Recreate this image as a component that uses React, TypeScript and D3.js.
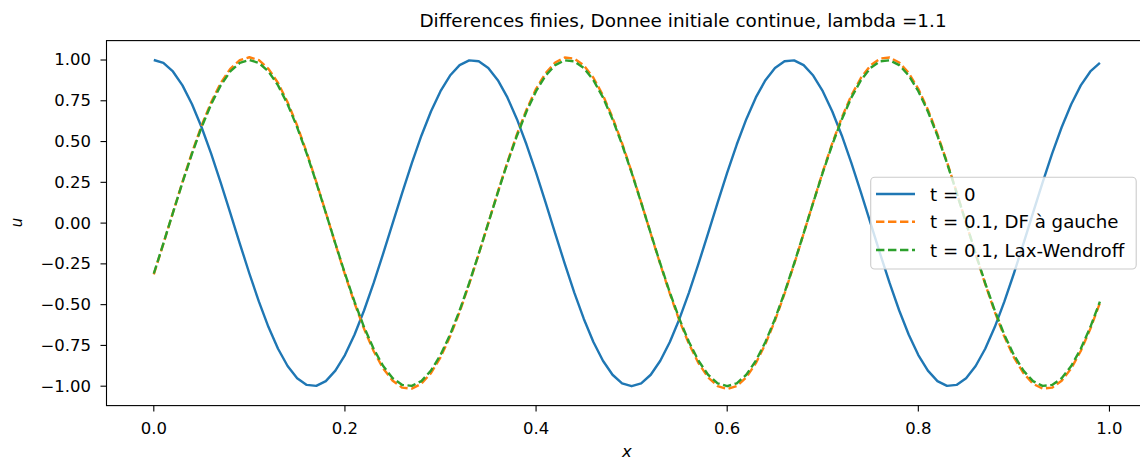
import React from "react";
import * as d3 from "d3";

const xValues = [
  0.00, 0.01, 0.02, 0.03, 0.04, 0.05, 0.06, 0.07, 0.08, 0.09,
  0.10, 0.11, 0.12, 0.13, 0.14, 0.15, 0.16, 0.17, 0.18, 0.19,
  0.20, 0.21, 0.22, 0.23, 0.24, 0.25, 0.26, 0.27, 0.28, 0.29,
  0.30, 0.31, 0.32, 0.33, 0.34, 0.35, 0.36, 0.37, 0.38, 0.39,
  0.40, 0.41, 0.42, 0.43, 0.44, 0.45, 0.46, 0.47, 0.48, 0.49,
  0.50, 0.51, 0.52, 0.53, 0.54, 0.55, 0.56, 0.57, 0.58, 0.59,
  0.60, 0.61, 0.62, 0.63, 0.64, 0.65, 0.66, 0.67, 0.68, 0.69,
  0.70, 0.71, 0.72, 0.73, 0.74, 0.75, 0.76, 0.77, 0.78, 0.79,
  0.80, 0.81, 0.82, 0.83, 0.84, 0.85, 0.86, 0.87, 0.88, 0.89,
  0.90, 0.91, 0.92, 0.93, 0.94, 0.95, 0.96, 0.97, 0.98, 0.99,
];

const uInitial = [
  1.0000, 0.9823, 0.9298, 0.8443, 0.7290, 0.5878, 0.4258, 0.2487, 0.0628, -0.1253,
  -0.3090, -0.4818, -0.6374, -0.7705, -0.8763, -0.9511, -0.9921, -0.9980, -0.9686, -0.9048,
  -0.8090, -0.6845, -0.5358, -0.3681, -0.1874, 0.0000, 0.1874, 0.3681, 0.5358, 0.6845,
  0.8090, 0.9048, 0.9686, 0.9980, 0.9921, 0.9511, 0.8763, 0.7705, 0.6374, 0.4818,
  0.3090, 0.1253, -0.0628, -0.2487, -0.4258, -0.5878, -0.7290, -0.8443, -0.9298, -0.9823,
  -1.0000, -0.9823, -0.9298, -0.8443, -0.7290, -0.5878, -0.4258, -0.2487, -0.0628, 0.1253,
  0.3090, 0.4818, 0.6374, 0.7705, 0.8763, 0.9511, 0.9921, 0.9980, 0.9686, 0.9048,
  0.8090, 0.6845, 0.5358, 0.3681, 0.1874, 0.0000, -0.1874, -0.3681, -0.5358, -0.6845,
  -0.8090, -0.9048, -0.9686, -0.9980, -0.9921, -0.9511, -0.8763, -0.7705, -0.6374, -0.4818,
  -0.3090, -0.1253, 0.0628, 0.2487, 0.4258, 0.5878, 0.7290, 0.8443, 0.9298, 0.9823,
];

const uUpwind = [
  -0.314, -0.127, 0.064, 0.253, 0.433, 0.598, 0.741, 0.859, 0.946, 0.999,
  1.017, 0.999, 0.946, 0.859, 0.741, 0.598, 0.433, 0.253, 0.064, -0.127,
  -0.314, -0.490, -0.648, -0.784, -0.891, -0.967, -1.009, -1.015, -0.985, -0.920,
  -0.823, -0.696, -0.545, -0.374, -0.191, 0.000, 0.191, 0.374, 0.545, 0.696,
  0.823, 0.920, 0.985, 1.015, 1.009, 0.967, 0.891, 0.784, 0.648, 0.490,
  0.314, 0.127, -0.064, -0.253, -0.433, -0.598, -0.741, -0.859, -0.946, -0.999,
  -1.017, -0.999, -0.946, -0.859, -0.741, -0.598, -0.433, -0.253, -0.064, 0.127,
  0.314, 0.490, 0.648, 0.784, 0.891, 0.967, 1.009, 1.015, 0.985, 0.920,
  0.823, 0.696, 0.545, 0.374, 0.191, 0.000, -0.191, -0.374, -0.545, -0.696,
  -0.823, -0.920, -0.985, -1.015, -1.009, -0.967, -0.891, -0.784, -0.648, -0.490,
];

const uLaxWendroff = [
  -0.3090, -0.1253, 0.0628, 0.2487, 0.4258, 0.5878, 0.7290, 0.8443, 0.9298, 0.9823,
  1.0000, 0.9823, 0.9298, 0.8443, 0.7290, 0.5878, 0.4258, 0.2487, 0.0628, -0.1253,
  -0.3090, -0.4818, -0.6374, -0.7705, -0.8763, -0.9511, -0.9921, -0.9980, -0.9686, -0.9048,
  -0.8090, -0.6845, -0.5358, -0.3681, -0.1874, 0.0000, 0.1874, 0.3681, 0.5358, 0.6845,
  0.8090, 0.9048, 0.9686, 0.9980, 0.9921, 0.9511, 0.8763, 0.7705, 0.6374, 0.4818,
  0.3090, 0.1253, -0.0628, -0.2487, -0.4258, -0.5878, -0.7290, -0.8443, -0.9298, -0.9823,
  -1.0000, -0.9823, -0.9298, -0.8443, -0.7290, -0.5878, -0.4258, -0.2487, -0.0628, 0.1253,
  0.3090, 0.4818, 0.6374, 0.7705, 0.8763, 0.9511, 0.9921, 0.9980, 0.9686, 0.9048,
  0.8090, 0.6845, 0.5358, 0.3681, 0.1874, 0.0000, -0.1874, -0.3681, -0.5358, -0.6845,
  -0.8090, -0.9048, -0.9686, -0.9980, -0.9921, -0.9511, -0.8763, -0.7705, -0.6374, -0.4818,
];

const xTicks = [0.0, 0.2, 0.4, 0.6, 0.8, 1.0];
const yTicks = [-1.0, -0.75, -0.5, -0.25, 0.0, 0.25, 0.5, 0.75, 1.0];

const seriesLabels = ["t = 0", "t = 0.1, DF à gauche", "t = 0.1, Lax-Wendroff"];
const titleText = "Differences finies, Donnee initiale continue, lambda =1.1";

const W = 1140;
const H = 462;
const FONT = "DejaVu Sans, sans-serif";
const SX = 1.1; // horizontal stretch of tick labels

export default function App() {
  const x = d3.scaleLinear().domain([-0.0495, 1.0395]).range([106.5, 1147.2]);
  const y = d3.scaleLinear().domain([-1.119, 1.119]).range([405.6, 40.6]);
  const left = x.range()[0];
  const right = x.range()[1];
  const top = y.range()[1];
  const bottom = y.range()[0];

  const line = d3
    .line<number>()
    .x((_, i) => x(xValues[i]))
    .y((d) => y(d));

  const series = [
    { data: uInitial, color: "#1f77b4", dash: undefined as string | undefined },
    { data: uUpwind, color: "#ff7f0e", dash: "8.4,3.6" },
    { data: uLaxWendroff, color: "#2ca02c", dash: "8.4,3.6" },
  ];

  const fmtY = (v: number) => {
    const s = Math.abs(v).toFixed(2);
    return v < 0 ? "\u2212" + s : s;
  };

  const legend = { x: 870.7, y: 177.3, w: 265.5, h: 91.7 };
  const rowY = [194, 221.8, 250];

  return (
    <svg
      width={W}
      height={H}
      style={{ position: "absolute", left: 0, top: 0, background: "#fff" }}
      fontFamily={FONT}
    >
      <rect x={0} y={0} width={W} height={H} fill="#fff" />
      <defs>
        <clipPath id="plotclip">
          <rect x={left} y={top} width={right - left} height={bottom - top} />
        </clipPath>
      </defs>
      <g clipPath="url(#plotclip)">
        {series.map((s, i) => (
          <path
            key={i}
            d={line(s.data) || ""}
            fill="none"
            stroke={s.color}
            strokeWidth={2.4}
            strokeDasharray={s.dash}
            strokeLinejoin="round"
          />
        ))}
      </g>
      {/* spines */}
      <rect
        x={left}
        y={top}
        width={right - left}
        height={bottom - top}
        fill="none"
        stroke="#000"
        strokeWidth={1.1}
      />
      {/* x ticks */}
      {xTicks.map((t) => (
        <g key={"xt" + t}>
          <line x1={x(t)} x2={x(t)} y1={bottom} y2={bottom + 6} stroke="#000" strokeWidth={1.1} />
          <text
            transform={`translate(${x(t)},${434}) scale(${SX},1)`}
            textAnchor="middle"
            fontSize={15}
            fill="#000"
          >
            {t.toFixed(1)}
          </text>
        </g>
      ))}
      {/* y ticks */}
      {yTicks.map((t) => (
        <g key={"yt" + t}>
          <line x1={left - 6} x2={left} y1={y(t)} y2={y(t)} stroke="#000" strokeWidth={1.1} />
          <text
            transform={`translate(${91},${y(t) + 5.4}) scale(${SX},1)`}
            textAnchor="end"
            fontSize={15}
            fill="#000"
          >
            {fmtY(t)}
          </text>
        </g>
      ))}
      {/* axis labels */}
      <text
        transform={`translate(${(left + right) / 2},${457}) scale(${SX},1)`}
        textAnchor="middle"
        fontSize={15}
        fontStyle="italic"
        fill="#000"
      >
        x
      </text>
      <text
        transform={`translate(${22},${222.5}) rotate(-90) scale(1,${SX})`}
        textAnchor="middle"
        fontSize={15}
        fontStyle="italic"
        fill="#000"
      >
        u
      </text>
      {/* title */}
      <text x={683} y={27} textAnchor="middle" fontSize={18.4} fill="#000">
        {titleText}
      </text>
      {/* legend */}
      <rect
        x={legend.x}
        y={legend.y}
        width={legend.w}
        height={legend.h}
        rx={4}
        ry={4}
        fill="#fff"
        fillOpacity={0.8}
        stroke="#cccccc"
        strokeWidth={1.1}
      />
      {series.map((s, i) => (
        <g key={"lg" + i}>
          <line
            x1={876}
            x2={915}
            y1={rowY[i]}
            y2={rowY[i]}
            stroke={s.color}
            strokeWidth={2.4}
            strokeDasharray={s.dash}
          />
          <text x={930} y={rowY[i] + 6.5} fontSize={18.2} fill="#000">
            {seriesLabels[i]}
          </text>
        </g>
      ))}
    </svg>
  );
}
